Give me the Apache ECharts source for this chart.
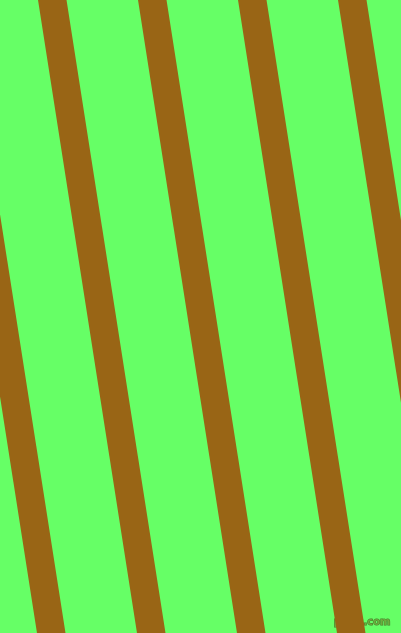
<!DOCTYPE html>
<html>
<head>
<meta charset="utf-8">
<script src="https://cdn.jsdelivr.net/npm/echarts@6/dist/echarts.min.js"></script>
<style>html,body{margin:0;padding:0;background:#66ff66;}#c{width:401px;height:633px;}</style>
</head>
<body>
<div id="c"></div>
<script>
// Stripe left-edge x positions at the top edge (y = 0), in pixel-space units
var stripeTopX = [-162, -62, 38, 138, 238, 338];
// Horizontal width of each stripe
var stripeWidth = [28.5, 28.5, 28.5, 28.5, 28.5, 28.5];
// Horizontal drift of each stripe from top (y=0) to bottom (y=633)
var stripeShift = [99, 99, 99, 99, 99, 99];
var canvasW = 401, canvasH = 633;

var data = stripeTopX.map(function (x, i) { return [x, stripeWidth[i], stripeShift[i]]; });

var chart = echarts.init(document.getElementById('c'), null, { renderer: 'canvas' });
chart.setOption({
  backgroundColor: '#66ff66',
  animation: false,
  grid: { left: 0, right: 0, top: 0, bottom: 0 },
  xAxis: { type: 'value', min: 0, max: canvasW, show: false },
  yAxis: { type: 'value', min: 0, max: canvasH, inverse: true, show: false },
  series: [{
    type: 'custom',
    clip: true,
    data: data,
    renderItem: function (params, api) {
      var x0 = api.value(0), w = api.value(1), s = api.value(2);
      var pts = [
        api.coord([x0, 0]),
        api.coord([x0 + w, 0]),
        api.coord([x0 + w + s, canvasH]),
        api.coord([x0 + s, canvasH])
      ];
      return { type: 'polygon', shape: { points: pts }, style: { fill: '#996515' } };
    }
  }],
  graphic: [{
    type: 'text',
    right: 10,
    bottom: 5,
    style: {
      text: 'pixlis.com',
      font: 'bold 10px "DejaVu Sans"',
      fill: 'rgba(110,170,60,0.9)',
      stroke: 'rgba(60,80,25,0.75)',
      lineWidth: 1
    }
  }]
});
</script>
</body>
</html>
